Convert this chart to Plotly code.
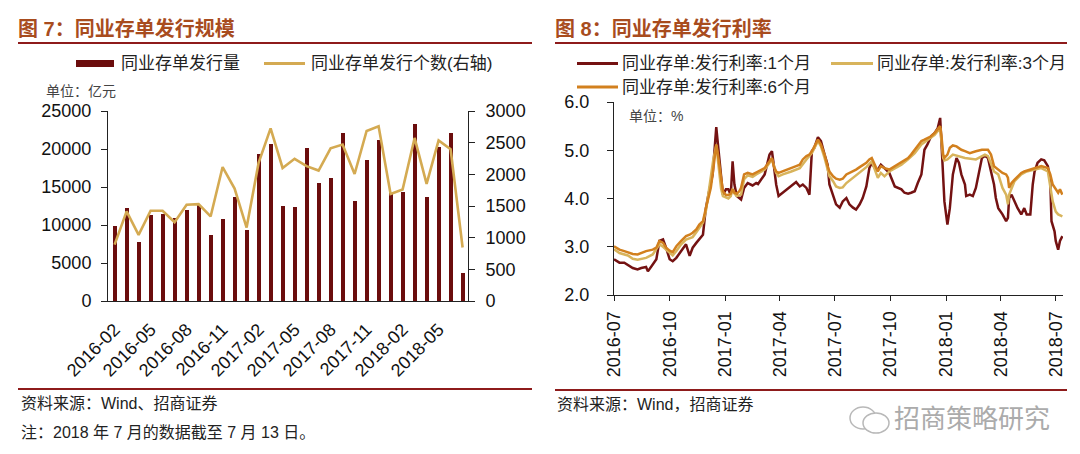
import plotly.graph_objects as go

W, H = 1080, 454

# ---------------- Left chart data (图7) ----------------
months = ["2016-02", "2016-03", "2016-04", "2016-05", "2016-06", "2016-07", "2016-08",
          "2016-09", "2016-10", "2016-11", "2016-12", "2017-01", "2017-02", "2017-03",
          "2017-04", "2017-05", "2017-06", "2017-07", "2017-08", "2017-09", "2017-10",
          "2017-11", "2017-12", "2018-01", "2018-02", "2018-03", "2018-04", "2018-05",
          "2018-06", "2018-07"]
issue_amount = [9900, 12200, 7750, 11350, 11450, 10900, 11950, 12600, 8700, 10850,
                13650, 9350, 19400, 20600, 12450, 12350, 20100, 15500, 16200, 22050,
                13100, 18500, 21150, 14200, 14350, 23300, 13650, 20300, 22050, 3700]
issue_count = [890, 1415, 1045, 1425, 1425, 1245, 1520, 1530, 1335, 2115,
               1775, 1160, 2180, 2725, 2100, 2245, 2130, 2060, 2410, 2470,
               2005, 2685, 2760, 1690, 1760, 2575, 1850, 2535, 2395, 845]
left_tick_idx = [0, 3, 6, 9, 12, 15, 18, 21, 24, 27]

# ---------------- Right chart data (图8) ----------------
d1m = ["2016-07-01", "2016-07-10", "2016-07-18", "2016-07-24", "2016-08-01", "2016-08-09",
       "2016-08-15", "2016-08-23", "2016-08-26", "2016-09-03", "2016-09-09", "2016-09-14",
       "2016-09-20", "2016-09-25", "2016-10-01", "2016-10-06", "2016-10-12", "2016-10-20",
       "2016-10-28", "2016-11-03", "2016-11-08", "2016-11-14", "2016-11-19", "2016-11-25",
       "2016-11-28", "2016-11-30", "2016-12-04", "2016-12-08", "2016-12-11", "2016-12-14",
       "2016-12-17", "2016-12-19", "2016-12-22", "2016-12-25", "2016-12-28", "2017-01-02",
       "2017-01-06", "2017-01-10", "2017-01-13", "2017-01-16", "2017-01-20", "2017-01-24",
       "2017-01-27", "2017-02-01", "2017-02-07", "2017-02-15", "2017-02-21", "2017-02-24",
       "2017-03-07", "2017-03-15", "2017-03-19", "2017-03-22", "2017-03-26", "2017-03-30",
       "2017-04-06", "2017-04-14", "2017-04-20", "2017-04-28", "2017-05-04", "2017-05-09",
       "2017-05-15", "2017-05-20", "2017-05-24", "2017-05-28", "2017-06-03", "2017-06-08",
       "2017-06-14", "2017-06-19", "2017-06-22", "2017-06-28", "2017-07-03", "2017-07-09",
       "2017-07-14", "2017-07-20", "2017-07-25", "2017-07-31", "2017-08-05", "2017-08-11",
       "2017-08-16", "2017-08-22", "2017-08-27", "2017-08-31", "2017-09-05", "2017-09-10",
       "2017-09-15", "2017-09-21", "2017-09-29", "2017-10-08", "2017-10-13", "2017-10-19",
       "2017-10-24", "2017-10-30", "2017-11-04", "2017-11-10", "2017-11-15", "2017-11-21",
       "2017-11-26", "2017-12-01", "2017-12-07", "2017-12-13", "2017-12-18", "2017-12-22",
       "2017-12-24", "2017-12-27", "2017-12-29", "2018-01-03", "2018-01-07", "2018-01-12",
       "2018-01-18", "2018-01-22", "2018-01-26", "2018-02-01", "2018-02-03", "2018-02-09",
       "2018-02-14", "2018-02-19", "2018-02-25", "2018-03-01", "2018-03-06", "2018-03-11",
       "2018-03-16", "2018-03-21", "2018-03-24", "2018-03-28", "2018-04-04", "2018-04-10",
       "2018-04-13", "2018-04-15", "2018-04-19", "2018-04-24", "2018-04-29", "2018-05-05",
       "2018-05-10", "2018-05-14", "2018-05-20", "2018-05-24", "2018-05-27", "2018-06-01",
       "2018-06-07", "2018-06-12", "2018-06-18", "2018-06-22", "2018-06-24", "2018-06-29",
       "2018-07-01", "2018-07-05", "2018-07-08", "2018-07-12"]
v1m = [2.74, 2.67, 2.67, 2.63, 2.56, 2.53,
       2.56, 2.58, 2.49, 2.63, 2.74, 3.12,
       3.15, 2.98, 2.74, 2.70, 2.77, 2.91,
       3.05, 2.81, 2.98, 3.08, 3.15, 3.25,
       3.60, 3.81, 4.08, 4.29, 4.50, 4.98,
       5.48, 5.22, 4.84, 4.50, 4.08, 4.19,
       4.19, 4.07, 4.77, 4.29, 4.05, 4.01,
       3.98, 4.22, 4.32, 4.27, 4.32, 4.30,
       4.50, 4.91, 4.98, 4.70, 4.29, 4.05,
       4.12, 4.19, 4.25, 4.34, 4.25, 4.29,
       4.22, 4.08, 4.98, 5.05, 5.27, 5.19,
       4.91, 4.70, 4.29, 4.08, 3.88, 3.81,
       3.94, 4.01, 3.88, 3.81, 3.77, 3.88,
       4.01, 4.25, 4.63, 4.74, 4.63, 4.60,
       4.70, 4.63, 4.53, 4.25, 4.22, 4.19,
       4.12, 4.10, 4.12, 4.15, 4.32, 4.50,
       5.01, 5.12, 5.29, 5.36, 5.46, 5.67,
       5.19, 4.22, 3.94, 3.46, 3.80, 4.50,
       4.84, 4.74, 4.50, 4.29, 4.05, 4.08,
       4.05, 4.22, 4.56, 4.84, 4.88, 4.84,
       4.56, 4.29, 4.01, 3.80, 3.67, 3.53,
       3.60, 4.01, 4.08, 3.94, 3.80, 3.67,
       3.80, 3.67, 3.67, 4.29, 4.56, 4.74,
       4.81, 4.79, 4.67, 4.36, 3.53, 3.32,
       3.12, 2.94, 3.12, 3.22]

d3m = ["2016-07-01", "2016-07-10", "2016-07-24", "2016-08-01", "2016-08-09", "2016-08-23",
       "2016-09-03", "2016-09-14", "2016-09-20", "2016-10-01", "2016-10-06", "2016-10-12",
       "2016-10-20", "2016-10-28", "2016-11-08", "2016-11-14", "2016-11-19", "2016-11-25",
       "2016-11-30", "2016-12-04", "2016-12-08", "2016-12-12", "2016-12-17", "2016-12-19",
       "2016-12-22", "2016-12-25", "2016-12-28", "2017-01-02", "2017-01-06", "2017-01-10",
       "2017-01-13", "2017-01-16", "2017-01-20", "2017-01-27", "2017-02-01", "2017-02-07",
       "2017-02-15", "2017-02-21", "2017-02-24", "2017-03-07", "2017-03-19", "2017-03-26",
       "2017-03-30", "2017-04-06", "2017-04-20", "2017-05-04", "2017-05-15", "2017-05-24",
       "2017-06-03", "2017-06-08", "2017-06-14", "2017-06-19", "2017-06-22", "2017-06-28",
       "2017-07-03", "2017-07-09", "2017-07-14", "2017-07-20", "2017-07-31", "2017-08-11",
       "2017-08-22", "2017-08-31", "2017-09-05", "2017-09-10", "2017-09-15", "2017-09-21",
       "2017-09-29", "2017-10-08", "2017-10-19", "2017-10-30", "2017-11-10", "2017-11-21",
       "2017-12-01", "2017-12-13", "2017-12-22", "2017-12-24", "2017-12-27", "2017-12-29",
       "2018-01-03", "2018-01-12", "2018-01-22", "2018-02-01", "2018-02-19", "2018-03-06",
       "2018-03-11", "2018-03-21", "2018-03-28", "2018-04-04", "2018-04-10", "2018-04-13",
       "2018-04-15", "2018-04-19", "2018-04-24", "2018-05-05", "2018-05-14", "2018-05-27",
       "2018-06-07", "2018-06-18", "2018-06-22", "2018-06-26", "2018-07-01", "2018-07-05",
       "2018-07-12"]
v3m = [2.95, 2.87, 2.82, 2.75, 2.73, 2.77,
       2.84, 3.05, 3.00, 2.87, 2.82, 2.91,
       3.05, 3.15, 3.20, 3.30, 3.40, 3.50,
       3.75, 4.10, 4.45, 4.80, 5.10, 4.90,
       4.50, 4.20, 4.05, 4.02, 4.00, 4.05,
       4.20, 4.10, 4.05, 4.08, 4.40, 4.48,
       4.45, 4.50, 4.52, 4.60, 4.81, 4.53,
       4.46, 4.50, 4.56, 4.63, 4.81, 4.94,
       5.19, 5.08, 4.84, 4.56, 4.46, 4.36,
       4.25, 4.22, 4.23, 4.32, 4.43, 4.53,
       4.65, 4.77, 4.60, 4.43, 4.53, 4.46,
       4.56, 4.63, 4.70, 4.81, 4.94, 5.12,
       5.22, 5.32, 5.46, 5.25, 4.84, 4.79,
       4.81, 4.91, 4.88, 4.84, 4.81, 4.91,
       4.88, 4.56, 4.50, 4.22, 4.08, 3.88,
       4.08, 4.22, 4.36, 4.50, 4.56, 4.60,
       4.63, 4.56, 4.29, 3.94, 3.73, 3.67,
       3.63]

d6m = ["2016-07-01", "2016-07-10", "2016-07-18", "2016-07-24", "2016-08-01", "2016-08-09",
       "2016-08-15", "2016-08-23", "2016-09-03", "2016-09-09", "2016-09-14", "2016-09-20",
       "2016-09-25", "2016-10-01", "2016-10-06", "2016-10-12", "2016-10-20", "2016-10-28",
       "2016-11-03", "2016-11-08", "2016-11-14", "2016-11-19", "2016-11-25", "2016-11-28",
       "2016-11-30", "2016-12-04", "2016-12-08", "2016-12-11", "2016-12-14", "2016-12-17",
       "2016-12-19", "2016-12-22", "2016-12-25", "2016-12-28", "2017-01-02", "2017-01-06",
       "2017-01-10", "2017-01-13", "2017-01-16", "2017-01-20", "2017-01-24", "2017-01-27",
       "2017-02-01", "2017-02-07", "2017-02-15", "2017-02-21", "2017-02-24", "2017-03-07",
       "2017-03-15", "2017-03-19", "2017-03-22", "2017-03-26", "2017-03-30", "2017-04-06",
       "2017-04-14", "2017-04-20", "2017-04-28", "2017-05-04", "2017-05-09", "2017-05-15",
       "2017-05-20", "2017-05-24", "2017-05-28", "2017-06-03", "2017-06-08", "2017-06-14",
       "2017-06-19", "2017-06-22", "2017-06-28", "2017-07-03", "2017-07-09", "2017-07-14",
       "2017-07-20", "2017-07-25", "2017-07-31", "2017-08-05", "2017-08-11", "2017-08-16",
       "2017-08-22", "2017-08-27", "2017-08-31", "2017-09-05", "2017-09-10", "2017-09-15",
       "2017-09-21", "2017-09-29", "2017-10-08", "2017-10-13", "2017-10-19", "2017-10-24",
       "2017-10-30", "2017-11-04", "2017-11-10", "2017-11-15", "2017-11-21", "2017-11-26",
       "2017-12-01", "2017-12-07", "2017-12-13", "2017-12-18", "2017-12-22", "2017-12-24",
       "2017-12-27", "2017-12-29", "2018-01-03", "2018-01-07", "2018-01-12", "2018-01-18",
       "2018-01-26", "2018-02-01", "2018-02-09", "2018-02-19", "2018-03-01", "2018-03-11",
       "2018-03-16", "2018-03-21", "2018-03-28", "2018-04-04", "2018-04-10", "2018-04-13",
       "2018-04-15", "2018-04-19", "2018-04-24", "2018-04-29", "2018-05-05", "2018-05-10",
       "2018-05-20", "2018-05-27", "2018-06-07", "2018-06-18", "2018-06-22", "2018-06-26",
       "2018-07-01", "2018-07-05", "2018-07-08", "2018-07-12"]
v6m = [3.01, 2.94, 2.91, 2.89, 2.85, 2.84,
       2.87, 2.91, 2.94, 2.98, 3.12, 3.08,
       2.98, 2.92, 2.89, 3.01, 3.12, 3.22,
       3.25, 3.29, 3.36, 3.46, 3.53, 3.67,
       3.81, 4.01, 4.22, 4.50, 4.84, 5.12,
       4.98, 4.67, 4.39, 4.15, 4.07, 4.07,
       4.10, 4.19, 4.12, 4.10, 4.15, 4.22,
       4.50, 4.53, 4.50, 4.53, 4.56, 4.63,
       4.77, 4.84, 4.67, 4.56, 4.53, 4.56,
       4.60, 4.63, 4.67, 4.70, 4.81, 4.88,
       4.91, 4.98, 5.08, 5.22, 5.12, 4.91,
       4.67, 4.56, 4.46, 4.41, 4.39, 4.41,
       4.50, 4.53, 4.56, 4.60, 4.65, 4.69,
       4.74, 4.81, 4.84, 4.70, 4.56, 4.67,
       4.63, 4.60, 4.67, 4.70, 4.74, 4.79,
       4.84, 4.91, 5.01, 5.08, 5.19, 5.22,
       5.25, 5.29, 5.36, 5.43, 5.50, 5.32,
       4.91, 4.84, 4.91, 5.05, 5.10, 5.08,
       5.01, 4.98, 4.94, 4.98, 5.01, 5.01,
       4.91, 4.67, 4.60, 4.53, 4.50, 4.43,
       4.22, 4.32, 4.39, 4.46, 4.53, 4.56,
       4.60, 4.63, 4.67, 4.63, 4.50, 4.29,
       4.19, 4.12, 4.19, 4.08]
right_ticks = ["2016-07-01", "2016-10-01", "2017-01-01", "2017-04-01", "2017-07-01",
               "2017-10-01", "2018-01-01", "2018-04-01", "2018-07-01"]

# ---------------- Styling ----------------
BAR_C = "#6B0D0D"
GOLD = "#D4AA52"
M1_C = "#741212"
M3_C = "#D8B45C"
M6_C = "#D2801E"
TITLE_C = "#A84C1E"
RULE_C = "#8E1B1B"
NUM_FONT = "Liberation Sans, Arial, Noto Sans CJK SC"
CJK_FONT = "Liberation Sans, Noto Sans CJK SC"


def px(x):
    return x / W


def py(y):
    return 1 - y / H


fig = go.Figure()

fig.add_trace(go.Bar(x=list(range(len(months))), y=issue_amount, marker_color=BAR_C,
                     marker_line_width=0, width=0.35, xaxis="x", yaxis="y",
                     name="同业存单发行量"))
fig.add_trace(go.Scatter(x=list(range(len(months))), y=issue_count, mode="lines",
                         line=dict(color=GOLD, width=2.6), xaxis="x", yaxis="y2",
                         name="同业存单发行个数(右轴)"))

fig.add_trace(go.Scatter(x=d1m, y=v1m, mode="lines", line=dict(color=M1_C, width=2.5),
                         xaxis="x2", yaxis="y3", name="同业存单:发行利率:1个月"))
fig.add_trace(go.Scatter(x=d3m, y=v3m, mode="lines", line=dict(color=M3_C, width=2.5),
                         xaxis="x2", yaxis="y3", name="同业存单:发行利率:3个月"))
fig.add_trace(go.Scatter(x=d6m, y=v6m, mode="lines", line=dict(color=M6_C, width=2.5),
                         xaxis="x2", yaxis="y3", name="同业存单:发行利率:6个月"))

tickfont = dict(family=NUM_FONT, size=18, color="#111")
axis_common = dict(showgrid=False, zeroline=False, showline=True, linecolor="#222",
                   linewidth=1, tickfont=tickfont, automargin=False, fixedrange=True)

fig.update_layout(
    width=W, height=H, autosize=False,
    margin=dict(l=0, r=0, t=0, b=0, pad=0),
    paper_bgcolor="white", plot_bgcolor="white",
    showlegend=False, bargap=0,
    xaxis=dict(domain=[px(100), px(460)], range=[-0.55, 29.45], anchor="y",
               tickmode="array", tickvals=left_tick_idx,
               ticktext=[months[i] for i in left_tick_idx], tickangle=-45, ticks="",
               ticklabelstandoff=10, **axis_common),
    yaxis=dict(domain=[py(293), py(103)], range=[0, 25000], dtick=5000, anchor="x",
               ticks="outside", ticklen=6, tickcolor="#222", tickformat="d",
               ticklabelstandoff=6, **axis_common),
    yaxis2=dict(overlaying="y", side="right", anchor="x", range=[0, 3000], dtick=500,
                ticks="outside", ticklen=6, tickcolor="#222", tickformat="d",
                ticklabelstandoff=7, **axis_common),
    xaxis2=dict(domain=[px(606), px(1055)], type="date",
                range=["2016-07-01", "2018-07-13"], anchor="y3",
                tickmode="array", tickvals=right_ticks, tickformat="%Y-%m", tickangle=-90,
                ticks="outside", ticklen=5, tickcolor="#222", ticklabelstandoff=3,
                **axis_common),
    yaxis3=dict(domain=[py(287), py(94)], range=[2, 6], dtick=1, tickformat=".1f",
                anchor="x2", ticks="outside", ticklen=6, tickcolor="#222",
                ticklabelstandoff=14, **axis_common),
)

shapes = []
# rules
for (x0, x1, y) in [(10, 524, 35), (10, 524, 381), (547, 1059, 35), (547, 1059, 382)]:
    shapes.append(dict(type="line", xref="paper", yref="paper", x0=px(x0), x1=px(x1),
                       y0=py(y), y1=py(y), line=dict(color=RULE_C, width=2.2)))
# left legend symbols
shapes.append(dict(type="rect", xref="paper", yref="paper", x0=px(68), x1=px(106),
                   y0=py(59), y1=py(52), fillcolor=BAR_C, line=dict(width=0)))
shapes.append(dict(type="line", xref="paper", yref="paper", x0=px(256), x1=px(297),
                   y0=py(55.5), y1=py(55.5), line=dict(color=GOLD, width=3)))
# right legend symbols
shapes.append(dict(type="line", xref="paper", yref="paper", x0=px(569), x1=px(610),
                   y0=py(55.5), y1=py(55.5), line=dict(color=M1_C, width=3)))
shapes.append(dict(type="line", xref="paper", yref="paper", x0=px(823), x1=px(865),
                   y0=py(55.5), y1=py(55.5), line=dict(color=M3_C, width=3)))
shapes.append(dict(type="line", xref="paper", yref="paper", x0=px(569), x1=px(610),
                   y0=py(79), y1=py(79), line=dict(color=M6_C, width=3)))
# watermark icon (two speech bubbles)
shapes.append(dict(type="circle", xref="paper", yref="paper", x0=px(842), x1=px(868),
                   y0=py(421), y1=py(399), line=dict(color="#B8B8B8", width=1.5)))
shapes.append(dict(type="circle", xref="paper", yref="paper", x0=px(855), x1=px(881),
                   y0=py(425), y1=py(405), line=dict(color="#B8B8B8", width=1.5),
                   fillcolor="white"))
fig.update_layout(shapes=shapes)


def txt(x, y, s, size, color="#222", bold=False, family=CJK_FONT, anchor="left"):
    if bold:
        s = "<b>" + s + "</b>"
    return dict(xref="paper", yref="paper", x=px(x), y=py(y), text=s, showarrow=False,
                xanchor=anchor, yanchor="middle",
                font=dict(family=family, size=size, color=color))


annotations = [
    txt(8, 21, "图 7：同业存单发行规模", 20, TITLE_C, bold=True),
    txt(545, 21, "图 8：同业存单发行利率", 20, TITLE_C, bold=True),
    txt(111, 55.5, "同业存单发行量", 17),
    txt(301, 55.5, "同业存单发行个数(右轴)", 17),
    txt(36, 83, "单位：亿元", 14, "#444"),
    txt(612, 55.5, "同业存单:发行利率:1个月", 17),
    txt(867, 55.5, "同业存单:发行利率:3个月", 17),
    txt(612, 79, "同业存单:发行利率:6个月", 17),
    txt(619, 108, "单位：%", 14, "#444"),
    txt(11, 395, "资料来源：Wind、招商证券", 16, "#222"),
    txt(11, 424, "注：2018 年 7 月的数据截至 7 月 13 日。", 16, "#222"),
    txt(547, 396, "资料来源：Wind，招商证券", 16, "#222"),
    txt(884, 411, "招商策略研究", 26, "#ABABAB"),
]
fig.update_layout(annotations=annotations)

fig.write_html("out.html")
